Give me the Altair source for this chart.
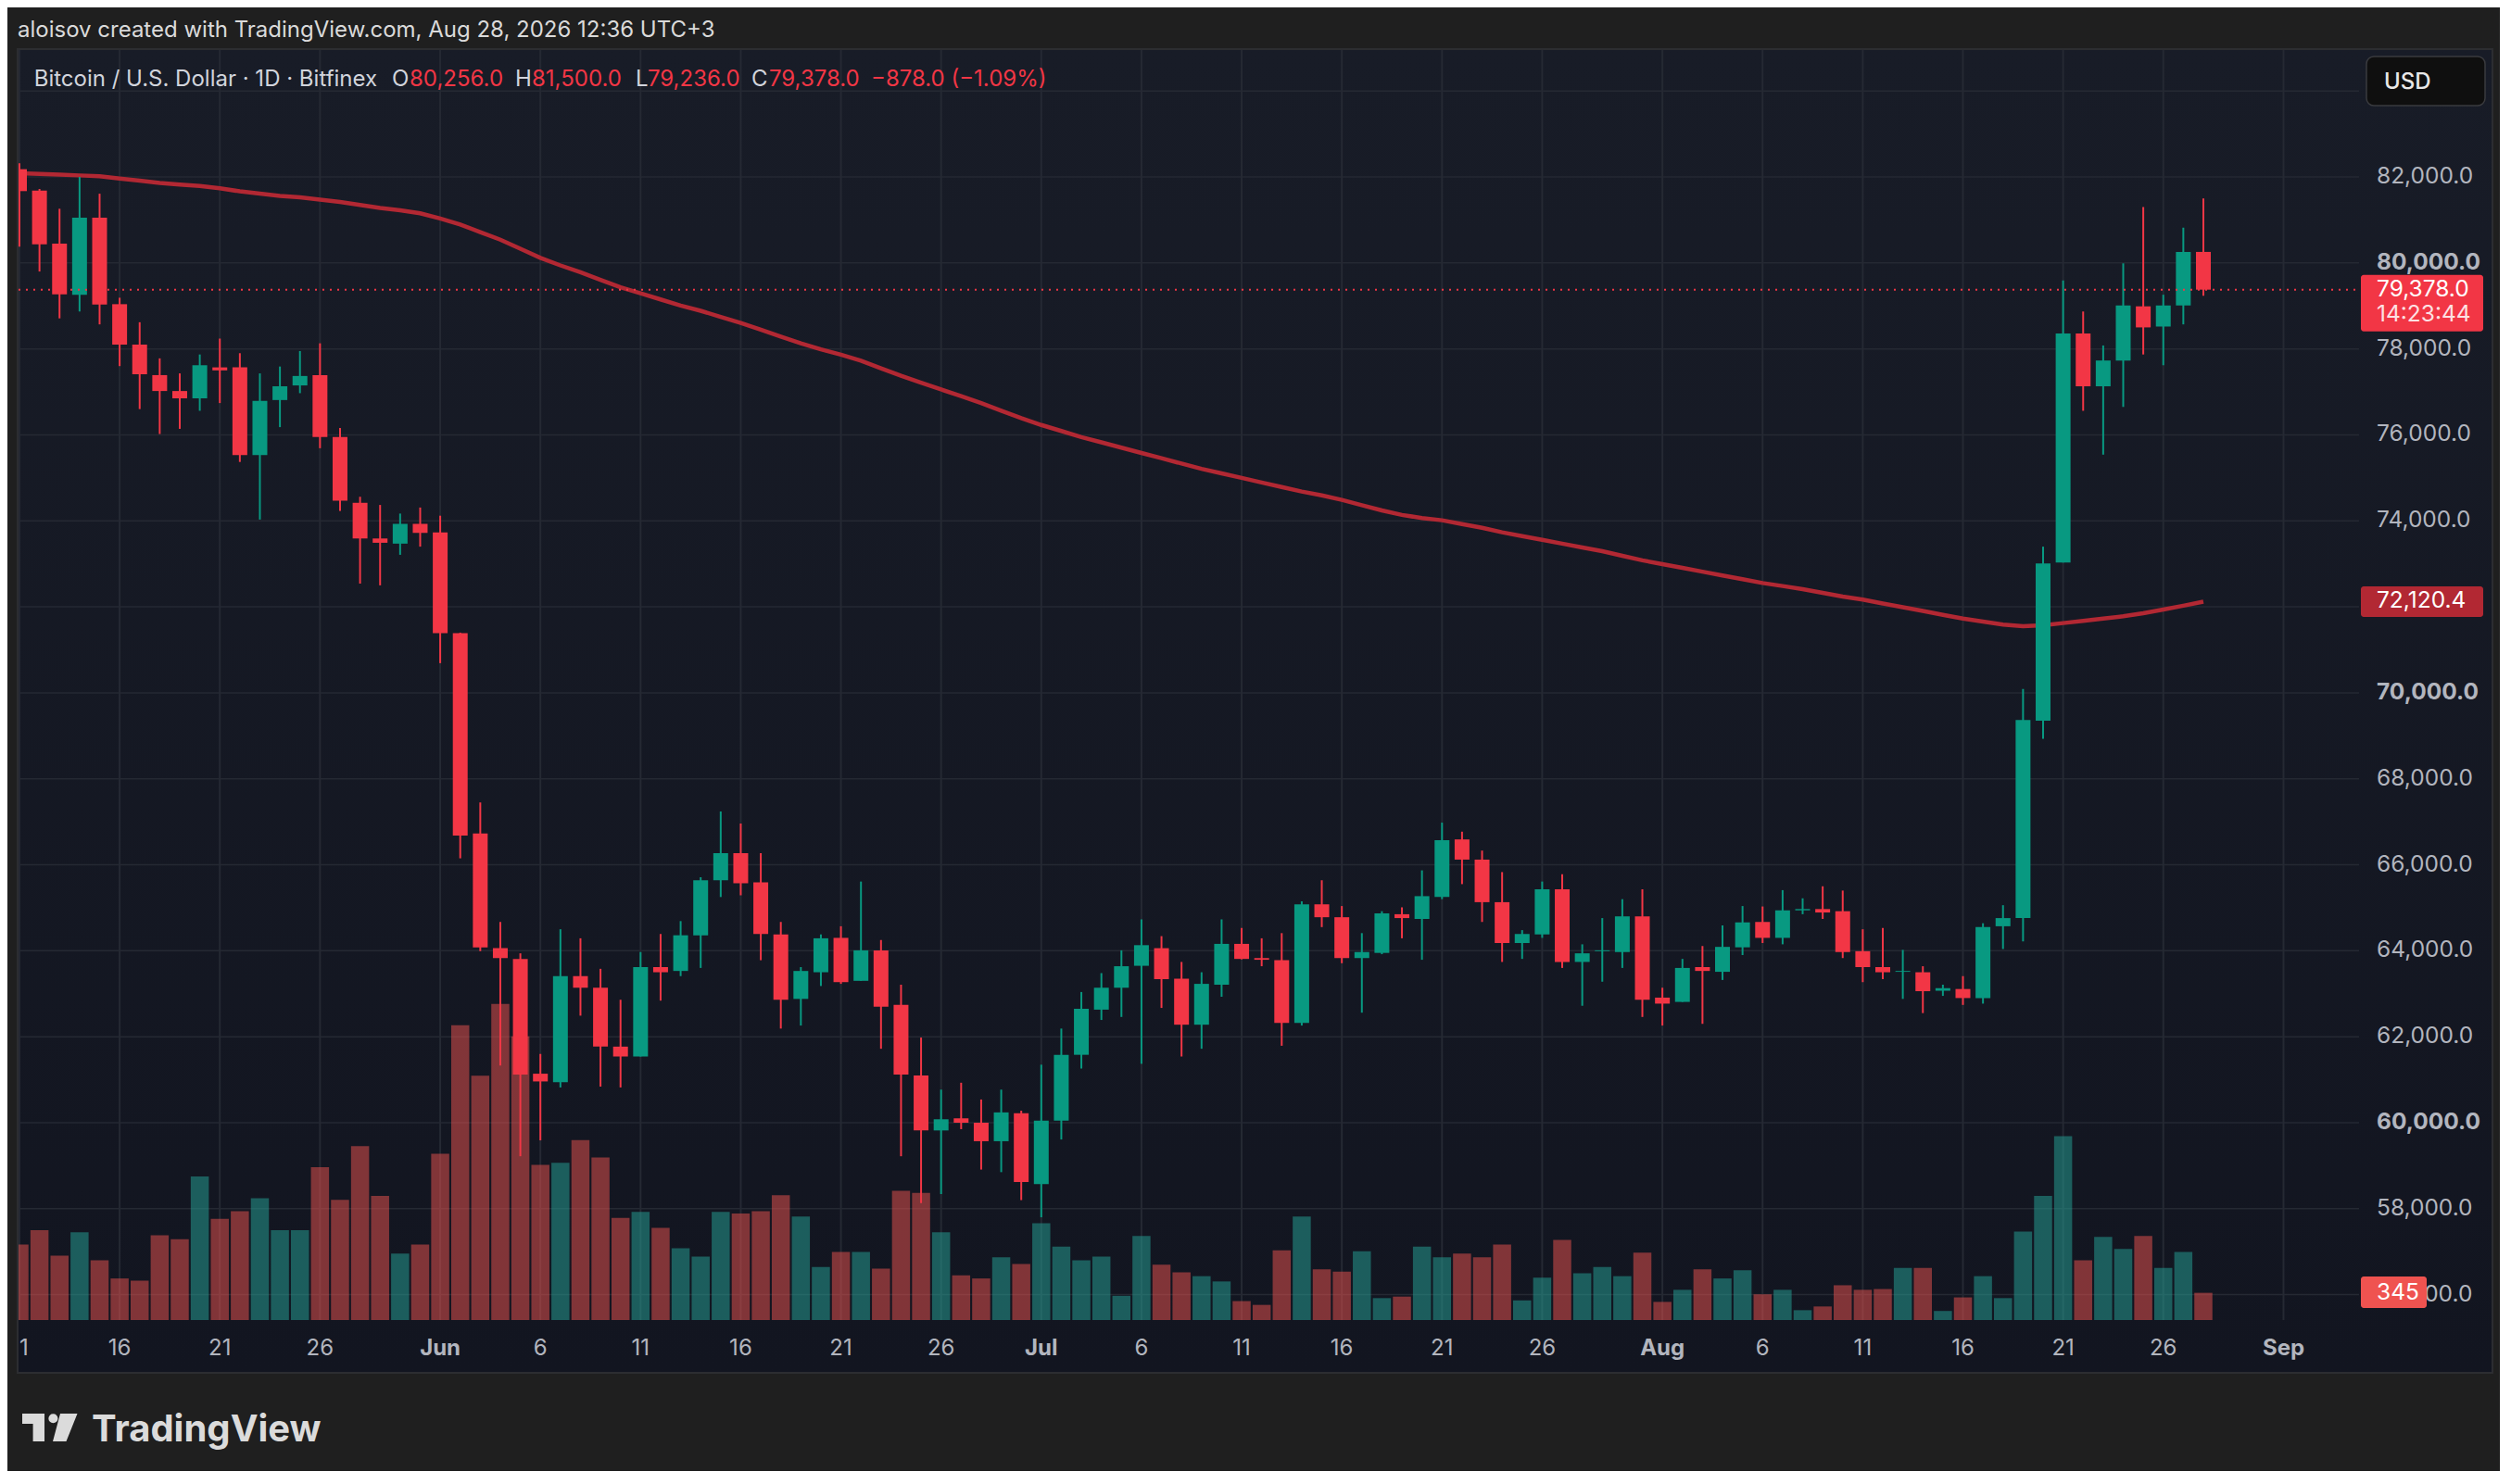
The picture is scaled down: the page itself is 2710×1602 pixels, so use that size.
import altair as alt
import pandas as pd

# ---------------- data ----------------
start = "2026-05-11"
dates = pd.date_range(start, "2026-08-28", freq="D")

open_ = [82180, 81680, 80450, 79260, 81050, 79040, 78100, 77390, 77020, 76850,
         77570, 77570, 75530, 76810, 77150, 77390, 75950, 74420, 73590, 73470,
         73930, 73730, 71390, 66730, 64060, 63810, 61140, 60940, 63410, 63140,
         61770, 61540, 63620, 63530, 64360, 65640, 66270, 65590, 64380, 62880,
         63500, 64300, 63300, 64010, 62740, 61100, 59820, 60100, 60000, 59570,
         60220, 58570, 60050, 61580, 62630, 63140, 63650, 64060, 63350, 62280,
         63210, 64160, 63830, 63780, 62320, 65080, 64780, 63830, 63950, 64850,
         64740, 65250, 66590, 66120, 65130, 64180, 64380, 65430, 63740, 63990,
         63970, 64800, 62910, 62810, 63620, 63510, 64080, 64670, 64300, 64940,
         64970, 64920, 63990, 63620, 63510, 63500, 63070, 63110, 62900, 64570,
         64760, 69350, 73030, 78360, 77130, 77730, 78990, 78520, 79010, 80256]
high = [82320, 81720, 81260, 82000, 81610, 79190, 78620, 77780, 77430, 77870,
        78240, 77900, 77430, 77590, 77950, 78130, 76160, 74560, 74370, 74170,
        74310, 74120, 71400, 67450, 64670, 63940, 61600, 64500, 64290, 63580,
        62860, 63970, 64390, 64690, 65710, 67240, 66960, 66270, 64670, 63620,
        64380, 64570, 65610, 64250, 63210, 61980, 60770, 60930, 60540, 60770,
        60280, 61350, 62190, 63040, 63480, 64010, 64730, 64340, 63740, 63500,
        64730, 64530, 64290, 64410, 65150, 65640, 65040, 64410, 64920, 65010,
        65870, 66980, 66770, 66330, 65830, 64480, 65610, 65780, 64150, 64760,
        65200, 65430, 63140, 63810, 64110, 64590, 65040, 65030, 65410, 65220,
        65500, 65400, 64500, 64530, 64020, 63640, 63210, 63410, 64640, 65060,
        70090, 73400, 79590, 78870, 78080, 79990, 81300, 79260, 80820, 81500]
low = [80380, 79800, 78710, 78870, 78570, 77600, 76600, 76020, 76140, 76560,
       76740, 75370, 74030, 76180, 76970, 75690, 74230, 72540, 72500, 73210,
       73400, 70690, 66150, 63990, 61330, 59220, 59590, 60820, 62490, 60840,
       60820, 61540, 62840, 63410, 63600, 65250, 65290, 63780, 62190, 62260,
       63180, 63230, 63300, 61720, 59220, 58130, 58340, 59850, 58910, 58850,
       58200, 57800, 59610, 61260, 62390, 62460, 61370, 62670, 61540, 61720,
       62930, 63800, 63640, 61790, 62260, 64550, 63710, 62560, 63920, 64290,
       63790, 65200, 65550, 64670, 63740, 63810, 64300, 63600, 62720, 63280,
       63600, 62460, 62260, 62810, 62300, 63320, 63900, 64180, 64150, 64850,
       64740, 63830, 63270, 63340, 62880, 62550, 62950, 62740, 62770, 64040,
       64220, 68930, 73030, 76560, 75540, 76650, 77870, 77620, 78570, 79236]
close = [81670, 80430, 79270, 81050, 79030, 78100, 77410, 77020, 76850, 77620,
         77500, 75530, 76790, 77130, 77370, 75950, 74470, 73590, 73490, 73930,
         73720, 71390, 66680, 64080, 63830, 61120, 60960, 63410, 63140, 61770,
         61540, 63620, 63500, 64360, 65640, 66270, 65570, 64390, 62860, 63530,
         64290, 63270, 64010, 62700, 61120, 59820, 60080, 60000, 59570, 60240,
         58620, 60050, 61580, 62650, 63140, 63640, 64130, 63340, 62280, 63230,
         64160, 63810, 63790, 62320, 65080, 64780, 63830, 63970, 64870, 64760,
         65270, 66570, 66120, 65130, 64180, 64390, 65430, 63740, 63940, 64010,
         64800, 62860, 62770, 63600, 63530, 64090, 64660, 64300, 64940, 64970,
         64890, 63970, 63620, 63500, 63530, 63060, 63130, 62900, 64550, 64760,
         69370, 73010, 78360, 77130, 77730, 79010, 78500, 79010, 80256, 79378]
volume = [958, 1140, 815, 1112, 757, 527, 498, 1073, 1025, 1821,
          1284, 1380, 1543, 1140, 1140, 1936, 1524, 2204, 1572, 843,
          958, 2108, 3737, 3095, 4006, 3594, 1965, 1993, 2281, 2060,
          1294, 1370, 1169, 910, 805, 1370, 1351, 1380, 1581, 1313,
          671, 862, 862, 652, 1639, 1610, 1112, 565, 527, 795,
          709, 1227, 930, 757, 805, 307, 1064, 700, 604, 556,
          489, 240, 192, 882, 1313, 642, 613, 872, 278, 297,
          930, 795, 843, 795, 958, 249, 537, 1016, 594, 671,
          556, 853, 230, 383, 642, 527, 632, 326, 383, 125,
          172, 441, 383, 393, 661, 661, 115, 287, 556, 278,
          1121, 1572, 2329, 757, 1054, 901, 1064, 661, 862, 345]
ma = [82088, 82070, 82052, 82035, 82017, 81964, 81912, 81859, 81824, 81789,
      81736, 81665, 81613, 81560, 81525, 81472, 81419, 81349, 81278, 81226,
      81155, 81032, 80891, 80716, 80540, 80329, 80118, 79942, 79783, 79607,
      79431, 79291, 79150, 79009, 78886, 78745, 78605, 78446, 78288, 78130,
      77989, 77866, 77725, 77549, 77374, 77215, 77057, 76899, 76740, 76564,
      76388, 76230, 76090, 75949, 75826, 75702, 75579, 75456, 75333, 75210,
      75104, 74999, 74893, 74787, 74682, 74594, 74489, 74365, 74242, 74137,
      74067, 74014, 73926, 73838, 73733, 73645, 73557, 73469, 73381, 73293,
      73187, 73081, 72993, 72906, 72818, 72730, 72642, 72554, 72484, 72413,
      72325, 72237, 72167, 72079, 71991, 71903, 71815, 71727, 71657, 71587,
      71551, 71569, 71622, 71674, 71727, 71780, 71850, 71938, 72026, 72120.4]

tick_dates = ["2026-05-11", "2026-05-16", "2026-05-21", "2026-05-26", "2026-06-01",
              "2026-06-06", "2026-06-11", "2026-06-16", "2026-06-21", "2026-06-26",
              "2026-07-01", "2026-07-06", "2026-07-11", "2026-07-16", "2026-07-21",
              "2026-07-26", "2026-08-01", "2026-08-06", "2026-08-11", "2026-08-16",
              "2026-08-21", "2026-08-26", "2026-09-01"]
tick_labels = ["11", "16", "21", "26", "Jun", "6", "11", "16", "21", "26", "Jul",
               "6", "11", "16", "21", "26", "Aug", "6", "11", "16", "21", "26", "Sep"]
grid_prices = list(range(56000, 86000, 2000))
label_prices = list(range(56000, 84000, 2000))
bold_prices = [60000, 70000, 80000]
countdown = "14:23:44"
symbol_title = "Bitcoin / U.S. Dollar · 1D · Bitfinex"
credit = "aloisov created with TradingView.com, Aug 28, 2026 12:36 UTC+3"

# ---------------- styling / layout ----------------
W, H = 2526, 1371
BG = "#1F1F1F"
RED = "#F23645"
GREEN = "#089981"
MA_COL = "#B22833"
GRID = "#252933"
AXIS = "#B2B5BE"
LIGHT = "#D1D4DC"
BORDER = "#2C2D31"
FONT = "Inter"
AX_FS = 24.5

t0 = pd.Timestamp(start)
df = pd.DataFrame({"date": dates, "open": open_, "high": high, "low": low,
                   "close": close, "vol": volume, "ma": ma})
df["d"] = (df["date"] - t0).dt.days
df["top"] = df[["open", "close"]].max(axis=1)
df["bot"] = df[["open", "close"]].min(axis=1)

ticks = pd.DataFrame({"d": [(pd.Timestamp(t) - t0).days for t in tick_dates],
                      "label": tick_labels})
ticks["month"] = ticks["label"].str.isalpha()

PMIN, PMAX = 55410, 84952
xs = alt.Scale(domain=[-0.046, 116.77], nice=False, zero=False, padding=0)
ys = alt.Scale(domain=[PMIN, PMAX], nice=False, zero=False, padding=0)
vs = alt.Scale(domain=[0, 16095], nice=False, padding=0)
px_per_price = H / (PMAX - PMIN)

X = alt.X("d:Q", scale=xs, axis=None)
up = "datum.close >= datum.open"

def fmt(v):
    return f"{v:,.1f}"

layers = []

# panel background
panel = alt.Chart(pd.DataFrame({"k": [0]})).mark_rect(
    color=alt.Gradient(gradient="linear",
                       stops=[alt.GradientStop(color="#181C27", offset=0),
                              alt.GradientStop(color="#121520", offset=1)],
                       x1=0, x2=0, y1=0, y2=1),
    stroke=BORDER, strokeWidth=2
).encode(x=alt.value(-1), x2=alt.value(2670), y=alt.value(-1), y2=alt.value(1428))
layers.append(panel)

# grid
hgrid = alt.Chart(pd.DataFrame({"p": grid_prices})).mark_rule(color=GRID, strokeWidth=1.5).encode(
    y=alt.Y("p:Q", scale=ys, axis=None), x=alt.value(0), x2=alt.value(W))
vgrid = alt.Chart(ticks).mark_rule(color=GRID, strokeWidth=2).encode(
    x=X, y=alt.value(0), y2=alt.value(H))
layers += [hgrid, vgrid]

base = alt.Chart(df)
vol = base.mark_bar(width=19.5, opacity=0.5, clip=True).encode(
    x=X, y=alt.Y("vol:Q", scale=vs, axis=None),
    color=alt.condition(up, alt.value("#26A69A"), alt.value("#EF5350")))
maline = base.mark_line(color=MA_COL, strokeWidth=4.5, clip=True).encode(
    x=X, y=alt.Y("ma:Q", scale=ys, axis=None))
wick = base.mark_rule(strokeWidth=2, clip=True).encode(
    x=X, y=alt.Y("low:Q", scale=ys, axis=None), y2="high",
    color=alt.condition(up, alt.value(GREEN), alt.value(RED)))
body = base.mark_bar(width=16, clip=True).encode(
    x=X, y=alt.Y("top:Q", scale=ys, axis=None), y2="bot",
    color=alt.condition(up, alt.value(GREEN), alt.value(RED)))
layers += [vol, maline, wick, body]

last = pd.DataFrame({"p": [close[-1]], "t1": [fmt(close[-1])], "t2": [countdown],
                     "m": [ma[-1]], "tm": [fmt(ma[-1])],
                     "v": [volume[-1]], "tv": [f"{volume[-1]:,}"]})
lastc = alt.Chart(last)
dotted = lastc.mark_rule(color=RED, strokeWidth=2, strokeDash=[2, 6]).encode(
    y=alt.Y("p:Q", scale=ys, axis=None), x=alt.value(0), x2=alt.value(W))
layers.append(dotted)

# price axis labels (the one hidden behind the MA marker is not drawn, as on the source)
pl = pd.DataFrame({"p": label_prices})
pl["label"] = pl["p"].map(fmt)
pl["bold"] = pl["p"].isin(bold_prices)
pl = pl[(pl["p"] - ma[-1]).abs() * px_per_price > 26]
plc = alt.Chart(pl)
for flag, wt in [(False, "normal"), (True, "bold")]:
    layers.append(plc.transform_filter(f"datum.bold == {str(flag).lower()}").mark_text(
        align="left", baseline="middle", font=FONT, fontSize=AX_FS, fontWeight=wt, color=AXIS
    ).encode(x=alt.value(2545), y=alt.Y("p:Q", scale=ys, axis=None), text="label:N"))

# time labels
tc = alt.Chart(ticks)
for flag, wt in [(False, "normal"), (True, "bold")]:
    layers.append(tc.transform_filter(f"datum.month == {str(flag).lower()}").mark_text(
        align="center", baseline="middle", font=FONT, fontSize=24, fontWeight=wt, color=AXIS
    ).encode(x=X, y=alt.value(1402), text="label:N"))

# label boxes on the price scale
layers.append(lastc.mark_rect(color=RED, yOffset=-16, y2Offset=45, cornerRadius=3).encode(
    x=alt.value(2528), x2=alt.value(2660), y=alt.Y("p:Q", scale=ys, axis=None), y2="p"))
layers.append(lastc.mark_text(align="left", baseline="middle", font=FONT, fontSize=AX_FS,
                              color="white").encode(
    x=alt.value(2545), y=alt.Y("p:Q", scale=ys, axis=None), text="t1:N"))
layers.append(lastc.mark_text(align="left", baseline="middle", font=FONT, fontSize=AX_FS,
                              color="white", opacity=0.85, dy=27).encode(
    x=alt.value(2545), y=alt.Y("p:Q", scale=ys, axis=None), text="t2:N"))
layers.append(lastc.mark_rect(color=MA_COL, yOffset=-16.5, y2Offset=16.5, cornerRadius=3).encode(
    x=alt.value(2528), x2=alt.value(2660), y=alt.Y("m:Q", scale=ys, axis=None), y2="m"))
layers.append(lastc.mark_text(align="left", baseline="middle", font=FONT, fontSize=AX_FS,
                              color="white").encode(
    x=alt.value(2545), y=alt.Y("m:Q", scale=ys, axis=None), text="tm:N"))
layers.append(lastc.mark_rect(color="#EF5350", yOffset=-17.6, y2Offset=16.4, cornerRadius=3).encode(
    x=alt.value(2528), x2=alt.value(2599), y=alt.Y("v:Q", scale=vs, axis=None), y2="v"))
layers.append(lastc.mark_text(align="left", baseline="middle", font=FONT, fontSize=AX_FS,
                              color="white").encode(
    x=alt.value(2545), y=alt.Y("v:Q", scale=vs, axis=None), text="tv:N"))

# USD button
one = alt.Chart(pd.DataFrame({"t": ["USD"]}))
layers.append(one.mark_rect(color="#0F0F0F", stroke="#3A3B3F", strokeWidth=1.5, cornerRadius=8).encode(
    x=alt.value(2534), x2=alt.value(2662), y=alt.value(7), y2=alt.value(60)))
layers.append(one.mark_text(align="left", baseline="middle", font=FONT, fontSize=24,
                            fontWeight=500, color="#E8E8E8").encode(
    x=alt.value(2553), y=alt.value(35), text="t:N"))

# legend line (symbol + OHLC of the last candle)
chg = close[-1] - close[-2]
pct = chg / close[-2] * 100
chg_txt = f"{chg:+,.1f} ({pct:+.2f}%)".replace("-", "\u2212")
segments = [(symbol_title, 16.7, LIGHT), ("O", 403, LIGHT), (fmt(open_[-1]), 422, RED),
            ("H", 536, LIGHT), (fmt(high[-1]), 554, RED), ("L", 666, LIGHT),
            (fmt(low[-1]), 679, RED), ("C", 791, LIGHT), (fmt(close[-1]), 810, RED),
            (chg_txt, 920, RED)]
for txt, xpos, col in segments:
    layers.append(alt.Chart(pd.DataFrame({"t": [txt]})).mark_text(
        align="left", baseline="middle", font=FONT, fontSize=24, color=col).encode(
        x=alt.value(xpos), y=alt.value(32), text="t:N"))

# outer strip on the left (clips the first time label at the panel edge) and credit line
layers.append(alt.Chart(pd.DataFrame({"k": [0]})).mark_rect(color=BG).encode(
    x=alt.value(-14), x2=alt.value(0), y=alt.value(-1), y2=alt.value(1429)))
layers.append(alt.Chart(pd.DataFrame({"k": [0]})).mark_rule(color=BORDER, strokeWidth=2).encode(
    x=alt.value(-1), y=alt.value(-2), y2=alt.value(1429)))
layers.append(alt.Chart(pd.DataFrame({"t": [credit]})).mark_text(
    align="left", baseline="middle", font=FONT, fontSize=24, color="#DADADA").encode(
    x=alt.value(-1), y=alt.value(-21), text="t:N"))

# TradingView logo + wordmark
logo_path = ("M -1 -0.508 L -0.186 -0.508 L -0.186 0.508 L -0.607 0.508 L -0.607 -0.136 "
             "L -1 -0.136 Z M 0.39 -0.508 L 1.017 -0.508 L 0.61 0.508 L 0.119 0.508 Z")
layers.append(alt.Chart(pd.DataFrame({"k": [0]})).mark_point(
    shape=logo_path, filled=True, size=3481, color="#DBDBDB", opacity=1, strokeWidth=0).encode(
    x=alt.value(33.5), y=alt.value(1487)))
layers.append(alt.Chart(pd.DataFrame({"k": [0]})).mark_point(
    shape="circle", filled=True, size=102, color="#DBDBDB", opacity=1, strokeWidth=0).encode(
    x=alt.value(37.4), y=alt.value(1477.3)))
layers.append(alt.Chart(pd.DataFrame({"t": ["TradingView"]})).mark_text(
    align="left", baseline="alphabetic", font=FONT, fontSize=40, fontWeight="bold",
    color="#DBDBDB").encode(x=alt.value(79), y=alt.value(1502), text="t:N"))

chart = alt.layer(*layers).resolve_scale(y="independent").properties(
    width=W, height=H, background=BG,
    padding={"left": 12, "top": 46, "right": 152, "bottom": 163},
    autosize=alt.AutoSizeParams(type="none"),
).configure_view(stroke=None)

chart.save("out.html", embed_options={"renderer": "svg", "actions": False})
